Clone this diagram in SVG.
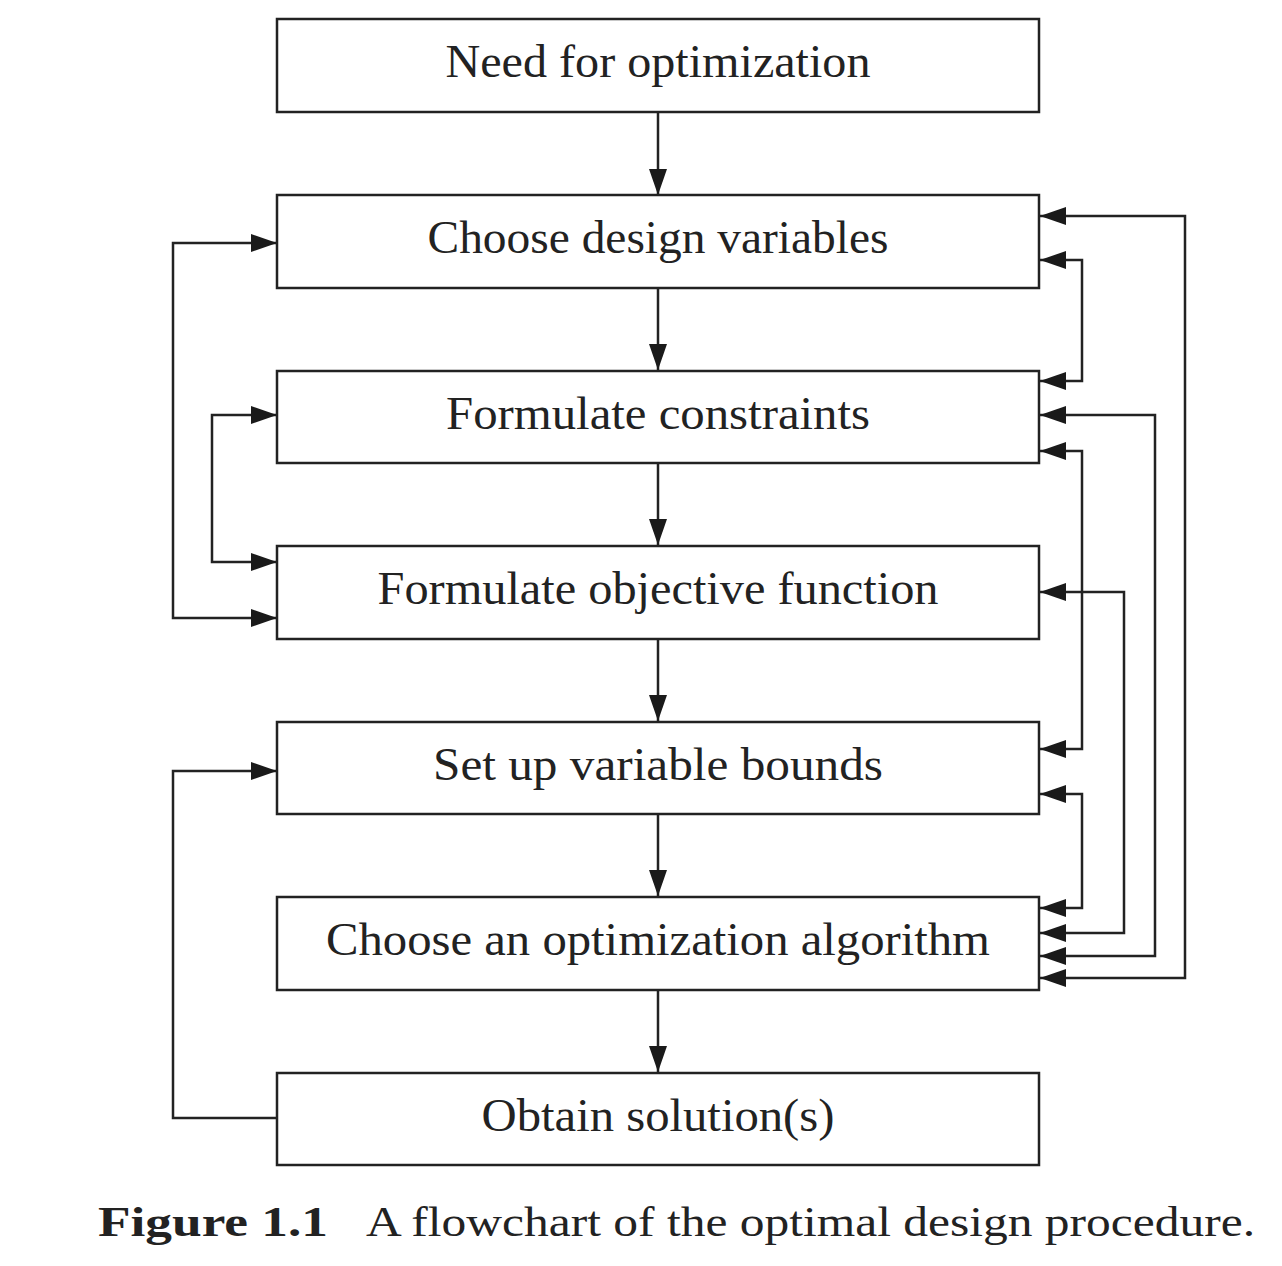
<svg xmlns="http://www.w3.org/2000/svg" width="1282" height="1266" viewBox="0 0 1282 1266">
<style>
.box{fill:#fff;stroke:#222;stroke-width:2.5}
.lbl{font-family:"Liberation Serif","DejaVu Serif",serif;font-size:46px;fill:#222;text-anchor:middle}
.cap{font-family:"Liberation Serif","DejaVu Serif",serif;font-size:42px;fill:#222}
.con{fill:none;stroke:#222;stroke-width:2.5}
.one{marker-end:url(#ah)}
.two{marker-start:url(#ah);marker-end:url(#ah)}
</style>
<defs>
<marker id="ah" markerUnits="userSpaceOnUse" markerWidth="26" markerHeight="18" refX="26" refY="9" orient="auto-start-reverse" viewBox="0 0 26 18">
<path d="M0,0 L26,9 L0,18 z" fill="#1a1a1a"/>
</marker>
</defs>
<rect width="1282" height="1266" fill="#fff"/>
<g id="connectors">
<path class="con one" d="M658,112 V195"/>
<path class="con one" d="M658,288 V370"/>
<path class="con one" d="M658,463 V545"/>
<path class="con one" d="M658,639 V721"/>
<path class="con one" d="M658,814 V896"/>
<path class="con one" d="M658,990 V1072"/>
<path class="con two" d="M1040,978 H1185 V216 H1040"/>
<path class="con two" d="M1040,260 H1082 V381 H1040"/>
<path class="con two" d="M1040,415 H1155 V956 H1040"/>
<path class="con two" d="M1040,451 H1082 V749 H1040"/>
<path class="con two" d="M1040,592 H1124 V933 H1040"/>
<path class="con two" d="M1040,794 H1082 V908 H1040"/>
<path class="con two" d="M277,243 H173 V618 H277"/>
<path class="con two" d="M277,415 H212 V562 H277"/>
<path class="con one" d="M277,1118 H173 V771 H277"/>
</g>
<g id="n1"><rect class="box" x="277" y="19" width="762" height="93"/><text class="lbl" x="658" y="77" textLength="425" lengthAdjust="spacingAndGlyphs">Need for optimization</text></g>
<g id="n2"><rect class="box" x="277" y="195" width="762" height="93"/><text class="lbl" x="658" y="253" textLength="461" lengthAdjust="spacingAndGlyphs">Choose design variables</text></g>
<g id="n3"><rect class="box" x="277" y="371" width="762" height="92"/><text class="lbl" x="658" y="429" textLength="424" lengthAdjust="spacingAndGlyphs">Formulate constraints</text></g>
<g id="n4"><rect class="box" x="277" y="546" width="762" height="93"/><text class="lbl" x="658" y="604" textLength="561" lengthAdjust="spacingAndGlyphs">Formulate objective function</text></g>
<g id="n5"><rect class="box" x="277" y="722" width="762" height="92"/><text class="lbl" x="658" y="780" textLength="450" lengthAdjust="spacingAndGlyphs">Set up variable bounds</text></g>
<g id="n6"><rect class="box" x="277" y="897" width="762" height="93"/><text class="lbl" x="658" y="955" textLength="664" lengthAdjust="spacingAndGlyphs">Choose an optimization algorithm</text></g>
<g id="n7"><rect class="box" x="277" y="1073" width="762" height="92"/><text class="lbl" x="658" y="1131" textLength="353" lengthAdjust="spacingAndGlyphs">Obtain solution(s)</text></g>
<g id="caption">
<text class="cap" x="98" y="1236" font-weight="bold" textLength="230" lengthAdjust="spacingAndGlyphs">Figure 1.1</text>
<text class="cap" x="366" y="1236" textLength="889" lengthAdjust="spacingAndGlyphs">A flowchart of the optimal design procedure.</text>
</g>
</svg>
